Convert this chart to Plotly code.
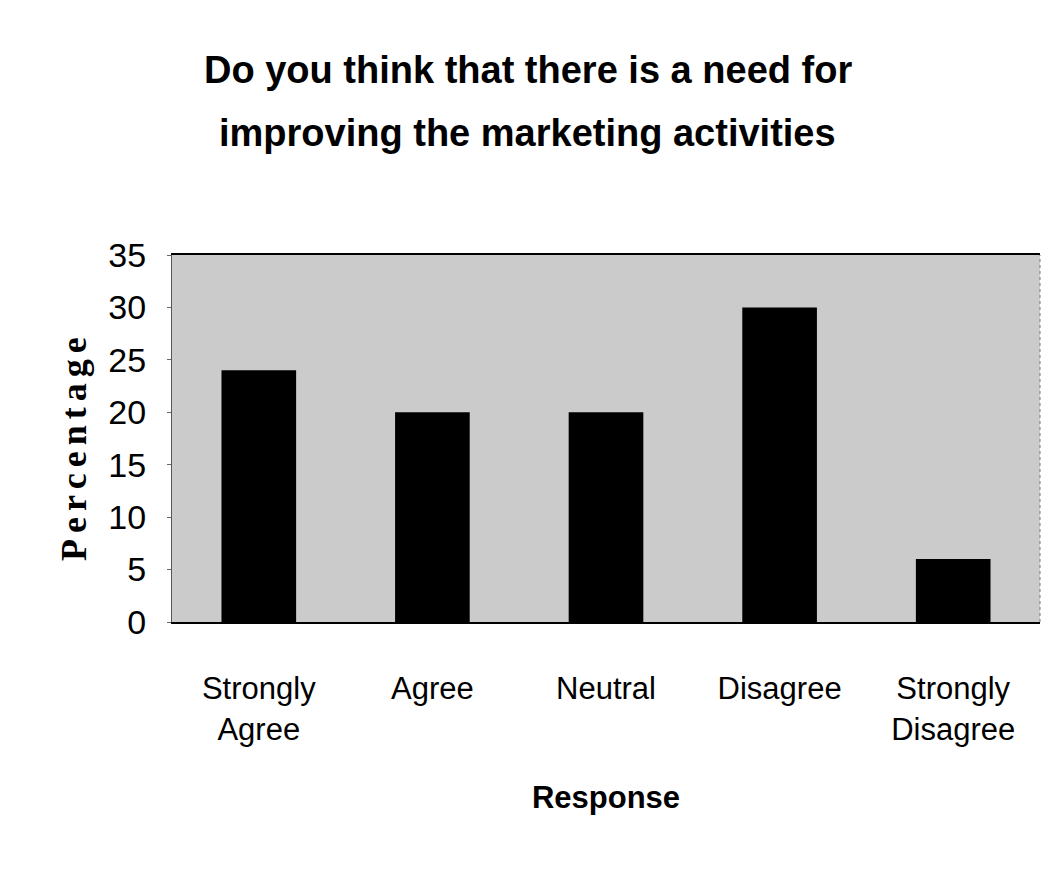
import plotly.graph_objects as go

categories = ["Strongly<br>Agree", "Agree", "Neutral", "Disagree", "Strongly<br>Disagree"]
percentages = [24, 20, 20, 30, 6]
y_ticks = [0, 5, 10, 15, 20, 25, 30, 35]
title_lines = ["Do you think that there is a need for", "improving the marketing activities"]

narrow = "Liberation Sans Narrow, Arial Narrow, Liberation Sans, Arial, sans-serif"
serif = "Liberation Serif, Times New Roman, serif"

fig = go.Figure(
    go.Bar(
        x=categories,
        y=percentages,
        marker=dict(color="#000000", line=dict(width=0)),
        width=0.43,
    )
)

fig.update_layout(
    width=1052,
    height=871,
    margin=dict(l=172, r=12, t=255, b=249),
    paper_bgcolor="#ffffff",
    plot_bgcolor="#cbcbcb",
    showlegend=False,
    xaxis=dict(
        showgrid=False,
        zeroline=False,
        showline=True,
        linecolor="#000000",
        linewidth=2,
        mirror=True,
        ticks="",
        tickfont=dict(family=narrow, size=31, color="#000000"),
        ticklabelstandoff=38,
        title=dict(
            text="<b>Response</b>",
            font=dict(family=narrow, size=31, color="#000000"),
            standoff=41,
        ),
    ),
    yaxis=dict(
        range=[0, 35],
        tickvals=y_ticks,
        showgrid=False,
        zeroline=False,
        showline=True,
        linecolor="#555555",
        linewidth=1,
        ticks="outside",
        ticklen=4,
        tickcolor="#666666",
        ticklabelstandoff=14,
        tickfont=dict(family=narrow, size=34, color="#000000"),
    ),
)

# Two-line chart title, placed line by line for wider leading
for text, ypos in zip(title_lines, [1.504, 1.332]):
    fig.add_annotation(
        text=f"<b>{text}</b>",
        xref="paper",
        yref="paper",
        x=0.41,
        y=ypos,
        xanchor="center",
        yanchor="middle",
        showarrow=False,
        font=dict(family=narrow, size=38, color="#000000"),
    )

# Letter-spaced vertical y-axis title
spaced = "\u2006".join("Percentage")
fig.add_annotation(
    text=f"<b>{spaced}</b>",
    xref="paper",
    yref="paper",
    x=-0.113,
    y=0.471,
    xanchor="center",
    yanchor="middle",
    textangle=-90,
    showarrow=False,
    font=dict(family=serif, size=36, color="#000000"),
)

# Faint dotted right-hand border of the plotting area
fig.add_shape(
    type="line",
    xref="paper",
    yref="paper",
    x0=1,
    x1=1,
    y0=0,
    y1=1,
    line=dict(color="#777777", width=1, dash="dot"),
)

fig.write_html("out.html")
